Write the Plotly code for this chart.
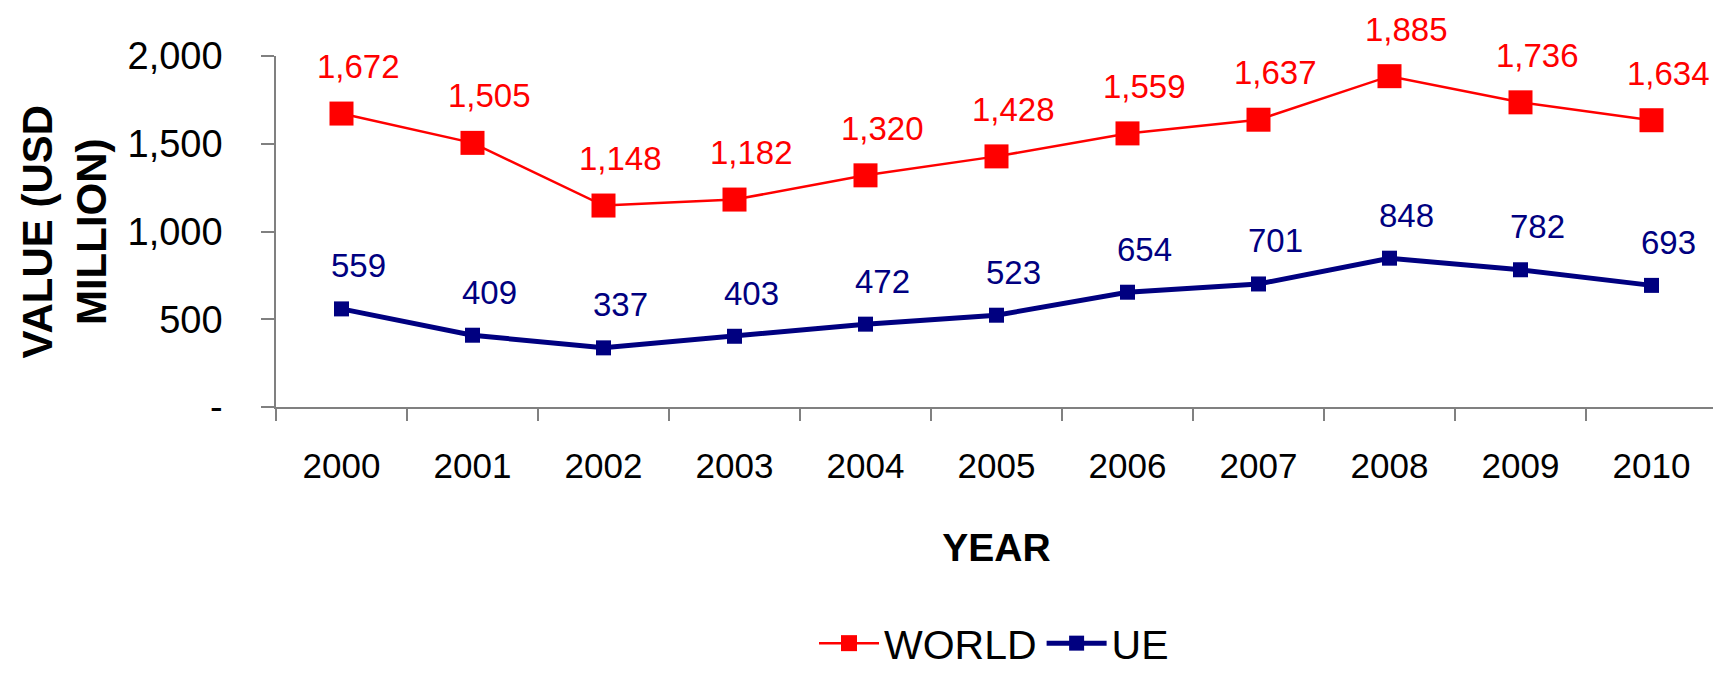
import plotly.graph_objects as go

years = ["2000", "2001", "2002", "2003", "2004", "2005", "2006", "2007", "2008", "2009", "2010"]
world = [1672, 1505, 1148, 1182, 1320, 1428, 1559, 1637, 1885, 1736, 1634]
ue = [559, 409, 337, 403, 472, 523, 654, 701, 848, 782, 693]
y_tickvals = [0, 500, 1000, 1500, 2000]
y_ticktext = ["-", "500", "1,000", "1,500", "2,000"]

FONT = "Liberation Sans, Arial, sans-serif"
RED = "#FF0000"
NAVY = "#000080"

fig = go.Figure()
fig.add_trace(go.Scatter(
    x=years, y=world, name="WORLD", mode="lines+markers",
    line=dict(color=RED, width=2.5),
    marker=dict(symbol="square", size=24, color=RED),
))
fig.add_trace(go.Scatter(
    x=years, y=ue, name="UE", mode="lines+markers",
    line=dict(color=NAVY, width=5),
    marker=dict(symbol="square", size=15, color=NAVY),
))

annotations = []
for series, color, ys in ((world, RED, 47), (ue, NAVY, 43)):
    for i, v in enumerate(series):
        annotations.append(dict(
            x=i, y=v, xref="x", yref="y", text=f"{v:,}", showarrow=False,
            xshift=17, yshift=ys, xanchor="center", yanchor="middle",
            font=dict(family=FONT, size=33, color=color),
        ))

annotations.append(dict(
    xref="paper", yref="paper", x=(64 - 276) / 1441, y=0.5,
    text="VALUE (USD<br>MILLION)", showarrow=False, textangle=-90,
    xanchor="center", yanchor="middle", borderpad=0,
    font=dict(family=FONT, size=42, color="black", weight="bold"),
))

# page body has an 8px default margin: figure placed at (8, 8)
fig.update_layout(
    width=1713, height=669,
    margin=dict(l=268, r=4, t=48, b=270),
    paper_bgcolor="white", plot_bgcolor="white",
    showlegend=True,
    legend=dict(
        orientation="h", x=(994 - 276) / 1441, xanchor="center",
        yref="container", y=0, yanchor="bottom",
        font=dict(family=FONT, size=41, color="black"),
        itemwidth=60,
    ),
    annotations=annotations,
    xaxis=dict(
        type="category", range=[-0.5, 10.5],
        showline=True, linecolor="#808080", linewidth=1.5,
        ticks="outside", tickson="boundaries", ticklen=12, tickcolor="#808080", tickwidth=1.5,
        showgrid=False, zeroline=False, automargin=False,
        tickfont=dict(family=FONT, size=35, color="black"),
        ticklabelstandoff=27,
        title=dict(text="<b>YEAR</b>", font=dict(family=FONT, size=39, color="black"), standoff=50),
    ),
    yaxis=dict(
        range=[0, 2000], tickvals=y_tickvals, ticktext=y_ticktext,
        showline=True, linecolor="#808080", linewidth=1.5,
        ticks="outside", ticklen=13, tickcolor="#808080", tickwidth=1.5,
        showgrid=False, zeroline=False, automargin=False,
        tickfont=dict(family=FONT, size=38, color="black"),
        ticklabelstandoff=31,
    ),
)

fig.write_html("out.html")
